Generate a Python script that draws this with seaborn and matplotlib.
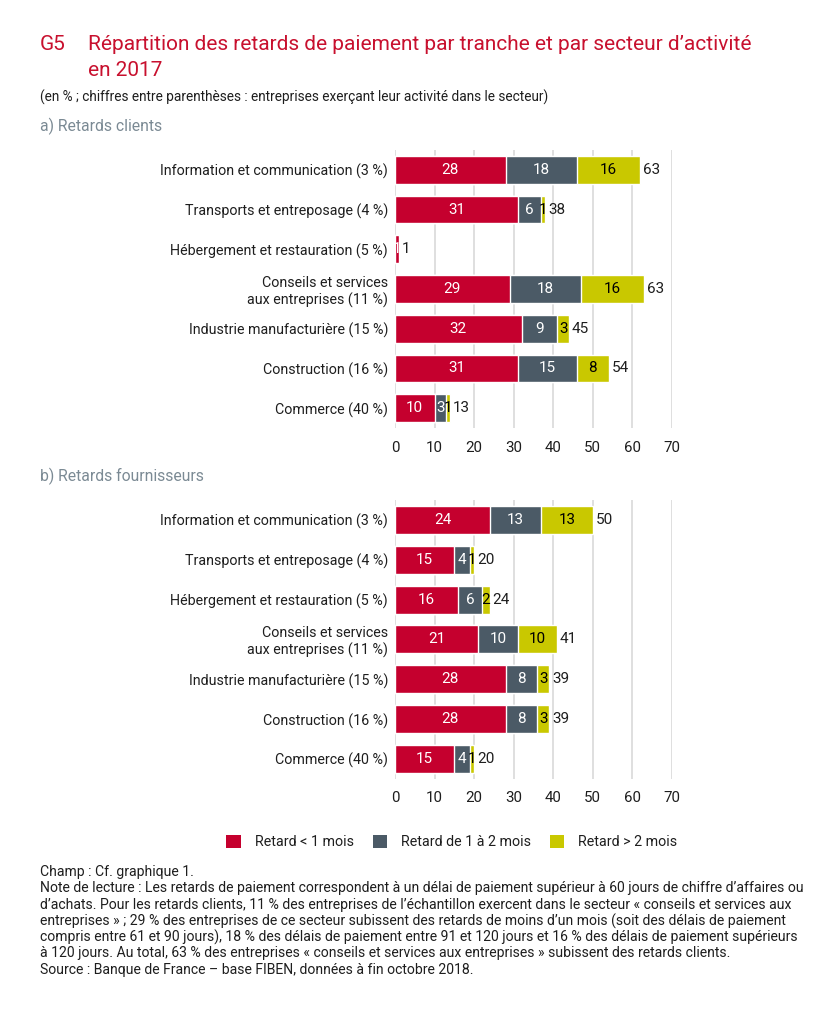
import matplotlib
matplotlib.use("Agg")
import matplotlib.pyplot as plt
from matplotlib.patches import Patch
import pandas as pd
import seaborn as sns

sectors = [
    "Information et communication (3 %)",
    "Transports et entreposage (4 %)",
    "Hébergement et restauration (5 %)",
    "Conseils et services\naux entreprises (11 %)",
    "Industrie manufacturière (15 %)",
    "Construction (16 %)",
    "Commerce (40 %)",
]

# a) retards clients
clients_lt1 = [28, 31, 1, 29, 32, 31, 10]
clients_1a2 = [18, 6, 0, 18, 9, 15, 3]
clients_gt2 = [16, 1, 0, 16, 3, 8, 1]
clients_total = [63, 38, 1, 63, 45, 54, 13]

# b) retards fournisseurs
fourn_lt1 = [24, 15, 16, 21, 28, 28, 15]
fourn_1a2 = [13, 4, 6, 10, 8, 8, 4]
fourn_gt2 = [13, 1, 2, 10, 3, 3, 1]
fourn_total = [50, 20, 24, 41, 39, 39, 20]

series_names = ["Retard < 1 mois", "Retard de 1 à 2 mois", "Retard > 2 mois"]
x_ticks = [0, 10, 20, 30, 40, 50, 60, 70]

RED = "#C5002E"
GREY = "#4B5A66"
YELLOW = "#C9C800"
TITLE_RED = "#C8102E"
SECTION_GREY = "#7B8A94"
TEXT = "#1E1E1E"

sns.set_theme(style="white")
plt.rcParams["font.family"] = ["Roboto", "DejaVu Sans"]


def draw_panel(ax, lt1, m12, gt2, total):
    df = pd.DataFrame({"sector": sectors, "lt1": lt1, "m12": m12, "gt2": gt2})
    df["c2"] = df["lt1"] + df["m12"]
    df["c3"] = df["c2"] + df["gt2"]
    # stacked bars drawn as overlapping cumulative bars
    for col, color in [("c3", YELLOW), ("c2", GREY), ("lt1", RED)]:
        sns.barplot(data=df, x=col, y="sector", color=color, orient="h",
                    width=0.7, saturation=1, ax=ax, zorder=3)
    for i, row in df.iterrows():
        parts = [(0, row["lt1"], "white"), (row["lt1"], row["m12"], "white"),
                 (row["c2"], row["gt2"], "black")]
        for left, val, tc in parts:
            if val > 0:
                ax.text(left + val / 2, i, f"{val:g}", ha="center", va="center",
                        color=tc, fontsize=11, zorder=4)
        ax.annotate(f"{total[i]}", (row["c3"], i), xytext=(2, 0),
                    textcoords="offset points", ha="left", va="center",
                    color=TEXT, fontsize=11, annotation_clip=False)
    ax.set_xlim(0, 70)
    ax.set_ylim(6.5, -0.5)
    ax.set_xticks(x_ticks)
    ax.grid(axis="x", color="#D6D6D6", linewidth=1.1, zorder=0)
    ax.set_axisbelow(True)
    sns.despine(ax=ax, left=True, bottom=True)
    ax.set_xlabel("")
    ax.set_ylabel("")
    ax.tick_params(axis="both", length=0, colors=TEXT)
    ax.tick_params(axis="y", pad=5, labelsize=10.3)
    ax.tick_params(axis="x", pad=9, labelsize=10.8)


fig = plt.figure(figsize=(8.3, 10.24), dpi=100)
ax_a = fig.add_axes([0.4759, 0.582, 0.3337, 0.2715])
ax_b = fig.add_axes([0.4759, 0.2393, 0.3337, 0.2725])
draw_panel(ax_a, clients_lt1, clients_1a2, clients_gt2, clients_total)
draw_panel(ax_b, fourn_lt1, fourn_1a2, fourn_gt2, fourn_total)

# titles
fig.text(40 / 830, 1 - 45 / 1024, "G5", color=TITLE_RED, fontsize=15, va="center")
fig.text(88 / 830, 1 - 45 / 1024, "Répartition des retards de paiement par tranche et par secteur d’activité",
         color=TITLE_RED, fontsize=15, va="center")
fig.text(88 / 830, 1 - 71 / 1024, "en 2017", color=TITLE_RED, fontsize=15, va="center")
fig.text(40 / 830, 1 - 97 / 1024,
         "(en % ; chiffres entre parenthèses : entreprises exerçant leur activité dans le secteur)",
         color=TEXT, fontsize=9.8, va="center")
fig.text(40 / 830, 1 - 126 / 1024, "a) Retards clients", color=SECTION_GREY,
         fontsize=11.3, va="center")
fig.text(40 / 830, 1 - 476 / 1024, "b) Retards fournisseurs", color=SECTION_GREY,
         fontsize=11.3, va="center")

handles = [Patch(facecolor=c, edgecolor="none") for c in (RED, GREY, YELLOW)]
fig.legend(handles, series_names, loc="center", bbox_to_anchor=(452 / 830, 1 - 842 / 1024),
           ncol=3, frameon=False, fontsize=10.3, handlelength=1.0, handleheight=1.0,
           columnspacing=1.3, handletextpad=1.0, labelcolor=TEXT)

notes = [
    "Champ : Cf. graphique 1.",
    "Note de lecture : Les retards de paiement correspondent à un délai de paiement supérieur à 60 jours de chiffre d’affaires ou",
    "d’achats. Pour les retards clients, 11 % des entreprises de l’échantillon exercent dans le secteur « conseils et services aux",
    "entreprises » ; 29 % des entreprises de ce secteur subissent des retards de moins d’un mois (soit des délais de paiement",
    "compris entre 61 et 90 jours), 18 % des délais de paiement entre 91 et 120 jours et 16 % des délais de paiement supérieurs",
    "à 120 jours. Au total, 63 % des entreprises « conseils et services aux entreprises » subissent des retards clients.",
    "Source : Banque de France – base FIBEN, données à fin octobre 2018.",
]
for k, line in enumerate(notes):
    fig.text(40 / 830, 1 - (872 + k * 16.3) / 1024, line, color=TEXT,
             fontsize=10.1, va="center")

fig.savefig("out.png", dpi=100, facecolor="white")
